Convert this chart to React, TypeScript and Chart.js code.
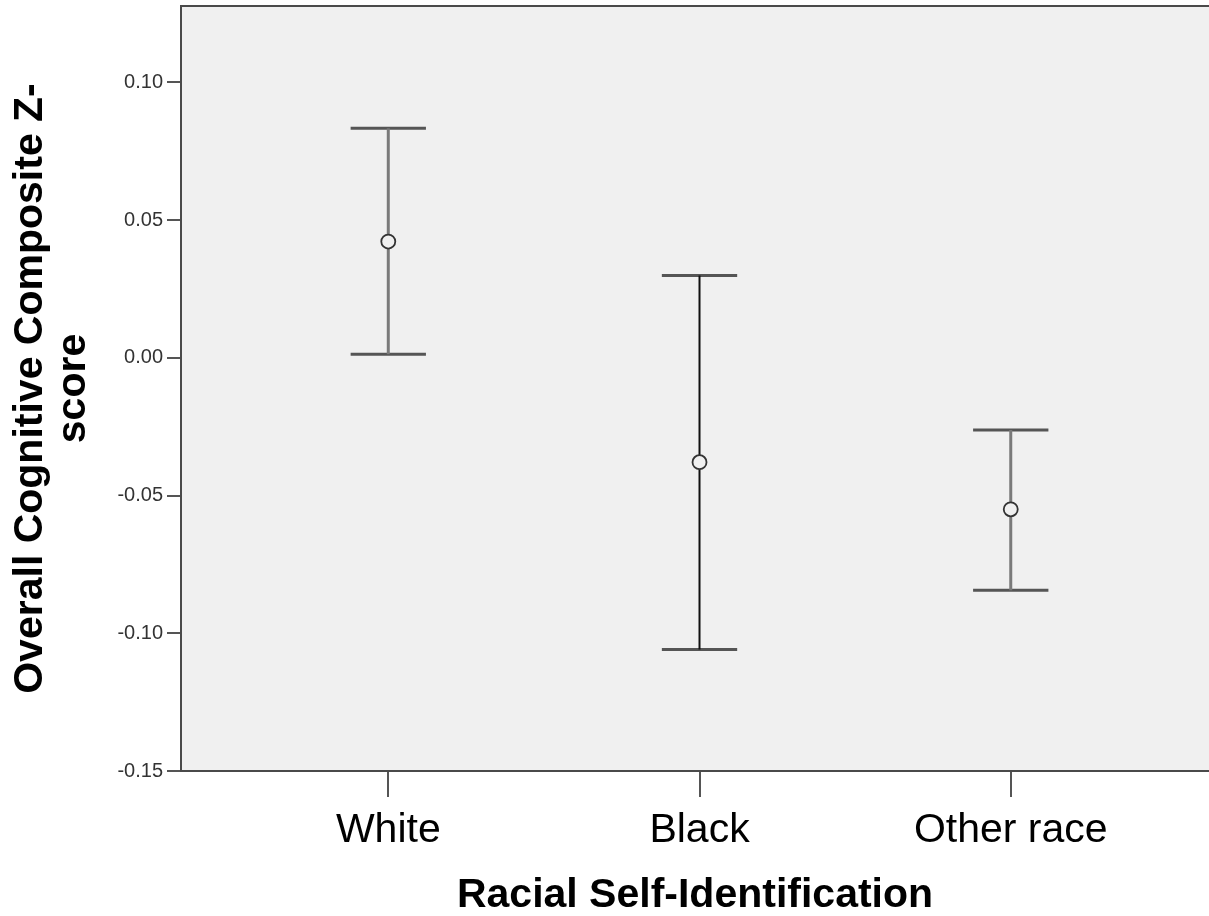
import React, { useEffect, useRef } from "react";
import { Chart, registerables } from "chart.js";

Chart.register(...registerables);

const categories = ["White", "Black", "Other race"];
const means = [0.0422, -0.0379, -0.055];
const upper = [0.0833, 0.0299, -0.0262];
const lower = [0.0013, -0.1059, -0.0844];
const yTicks = [-0.15, -0.1, -0.05, 0, 0.05, 0.1];
const xPositions = [1, 2, 3];

const whiskerColors = ["#7a7a7a", "#111111", "#7a7a7a"];
const whiskerWidths = [3, 2, 3];
const CAP_HALF = 0.121;
const FONT = "'Liberation Sans', Arial, Helvetica, sans-serif";

const plotBgPlugin = {
  id: "plotBg",
  beforeDraw(chart: any) {
    const { ctx, chartArea } = chart;
    ctx.save();
    ctx.fillStyle = "#F0F0F0";
    ctx.fillRect(chartArea.left, chartArea.top, chartArea.right - chartArea.left, chartArea.bottom - chartArea.top);
    ctx.restore();
  },
  afterDraw(chart: any) {
    const { ctx, chartArea } = chart;
    ctx.save();
    ctx.strokeStyle = "#4a4a4a";
    ctx.lineWidth = 2;
    ctx.beginPath();
    ctx.moveTo(chartArea.left, chartArea.top);
    ctx.lineTo(chartArea.right, chartArea.top);
    ctx.stroke();
    ctx.restore();
  },
};

export default function App() {
  const ref = useRef<HTMLCanvasElement | null>(null);

  useEffect(() => {
    if (!ref.current) return;
    const datasets: any[] = [];
    xPositions.forEach((xv, i) => {
      datasets.push({
        data: [
          { x: xv, y: lower[i] },
          { x: xv, y: upper[i] },
        ],
        showLine: true,
        pointRadius: 0,
        borderColor: whiskerColors[i],
        borderWidth: whiskerWidths[i],
        order: 2,
      });
      datasets.push({
        data: [
          { x: xv - CAP_HALF, y: upper[i] },
          { x: xv + CAP_HALF, y: upper[i] },
        ],
        showLine: true,
        pointRadius: 0,
        borderColor: "#555555",
        borderWidth: 3,
        order: 2,
      });
      datasets.push({
        data: [
          { x: xv - CAP_HALF, y: lower[i] },
          { x: xv + CAP_HALF, y: lower[i] },
        ],
        showLine: true,
        pointRadius: 0,
        borderColor: "#555555",
        borderWidth: 3,
        order: 2,
      });
    });
    datasets.push({
      data: xPositions.map((xv, i) => ({ x: xv, y: means[i] })),
      showLine: false,
      pointStyle: "circle",
      pointRadius: 7,
      pointBorderColor: "#333333",
      pointBackgroundColor: "#F0F0F0",
      pointBorderWidth: 1.8,
      order: 1,
    });

    const chart = new Chart(ref.current, {
      type: "scatter",
      data: { datasets },
      plugins: [plotBgPlugin],
      options: {
        responsive: false,
        animation: false,
        devicePixelRatio: 1,
        layout: { autoPadding: false, padding: { top: 6, right: 0, left: 0, bottom: 0 } },
        plugins: { legend: { display: false }, tooltip: { enabled: false } },
        scales: {
          x: {
            type: "linear",
            min: 0.334,
            max: 3.637,
            afterBuildTicks: (scale: any) => {
              scale.ticks = xPositions.map((v) => ({ value: v }));
            },
            afterFit: (scale: any) => {
              scale.height = 145;
              scale.paddingLeft = 0;
              scale.paddingRight = 0;
            },
            ticks: {
              autoSkip: false,
              maxRotation: 0,
              padding: 9,
              color: "#000000",
              font: { family: FONT, size: 41 },
              callback: (v: any) => {
                const idx = xPositions.indexOf(Number(v));
                return idx >= 0 ? categories[idx] : "";
              },
            },
            grid: {
              drawOnChartArea: false,
              drawTicks: true,
              tickLength: 26,
              color: "#555555",
              lineWidth: 2,
            },
            border: { display: true, color: "#4a4a4a", width: 2 },
            title: {
              display: true,
              text: "Racial Self-Identification",
              color: "#000000",
              font: { family: FONT, size: 41, weight: "bold", lineHeight: 1 },
              padding: { top: 0, bottom: 0 },
            },
          },
          y: {
            type: "linear",
            min: -0.15,
            max: 0.1277,
            afterBuildTicks: (scale: any) => {
              scale.ticks = yTicks.map((v) => ({ value: v }));
            },
            afterFit: (scale: any) => {
              scale.width = 181;
              scale.paddingTop = 0;
              scale.paddingBottom = 0;
            },
            ticks: {
              padding: 4,
              color: "#333333",
              font: { family: FONT, size: 20 },
              callback: (v: any) => Number(v).toFixed(2),
            },
            grid: {
              drawOnChartArea: false,
              drawTicks: true,
              tickLength: 14,
              color: "#555555",
              lineWidth: 2,
            },
            border: { display: true, color: "#4a4a4a", width: 2 },
            title: {
              display: true,
              text: ["Overall Cognitive Composite Z-", "score"],
              color: "#000000",
              font: { family: FONT, size: 41, weight: "bold", lineHeight: 1.05 },
              padding: { top: 9, bottom: 0 },
            },
          },
        },
      },
    } as any);
    return () => chart.destroy();
  }, []);

  return (
    <canvas
      ref={ref}
      width={1209}
      height={916}
      style={{ position: "absolute", left: 0, top: 0, width: 1209, height: 916 }}
    />
  );
}
